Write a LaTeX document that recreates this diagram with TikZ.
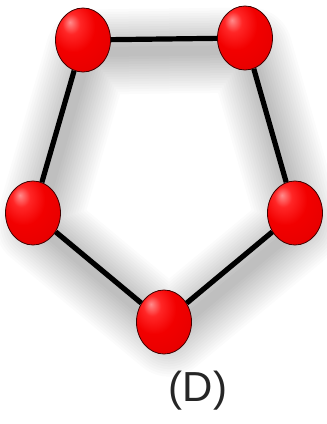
\documentclass[tikz,border=0pt]{standalone}
\usepackage{fontspec}
\setmainfont{Liberation Sans}
\usetikzlibrary{shapes.geometric}
\pgfdeclareradialshading{atomshade}{\pgfpoint{-12bp}{14bp}}{%
  color(0bp)=(red!45!white); color(8bp)=(red!85!white); color(20bp)=(red!95!black);
  color(45bp)=(red!88!black); color(62bp)=(red!70!black); color(80bp)=(red!60!black)}
\begin{document}
\begin{tikzpicture}[x=1pt,y=-1pt,
  atom/.style={ellipse,minimum width=55pt,minimum height=64pt,inner sep=0pt,
    shading=atomshade,draw=black!75!red,line width=0.8pt},
  bond/.style={line width=5.2pt,black},
  shadowline/.style={line cap=round,line join=round,black,opacity=0.016}]
\useasboundingbox (0,0) rectangle (327,424);
\fill[white] (0,0) rectangle (327,424);
% soft shadow
\coordinate (s1) at (88,52);
\coordinate (s2) at (250,50);
\coordinate (s3) at (300,225);
\coordinate (s4) at (169,334);
\coordinate (s5) at (38,225);
\foreach \w in {10,15,20,25,30,35,40,45,50,55,60,65,70,75,80,85}{
  \draw[shadowline,line width=\w pt] (s1) -- (s2) -- (s3) -- (s4) -- (s5) -- cycle;
}
% nodes
\node[atom] (a) at (83,40) {};
\node[atom] (b) at (245,38) {};
\node[atom] (c) at (295,213) {};
\node[atom] (d) at (164,322) {};
\node[atom] (e) at (33,213) {};
\draw[bond] (a) -- (b);
\draw[bond] (b) -- (c);
\draw[bond] (c) -- (d);
\draw[bond] (d) -- (e);
\draw[bond] (e) -- (a);
\node[font=\fontsize{42}{46}\selectfont,text=black!85] (lbl) at (198,391) {(D)};
\end{tikzpicture}
\end{document}
